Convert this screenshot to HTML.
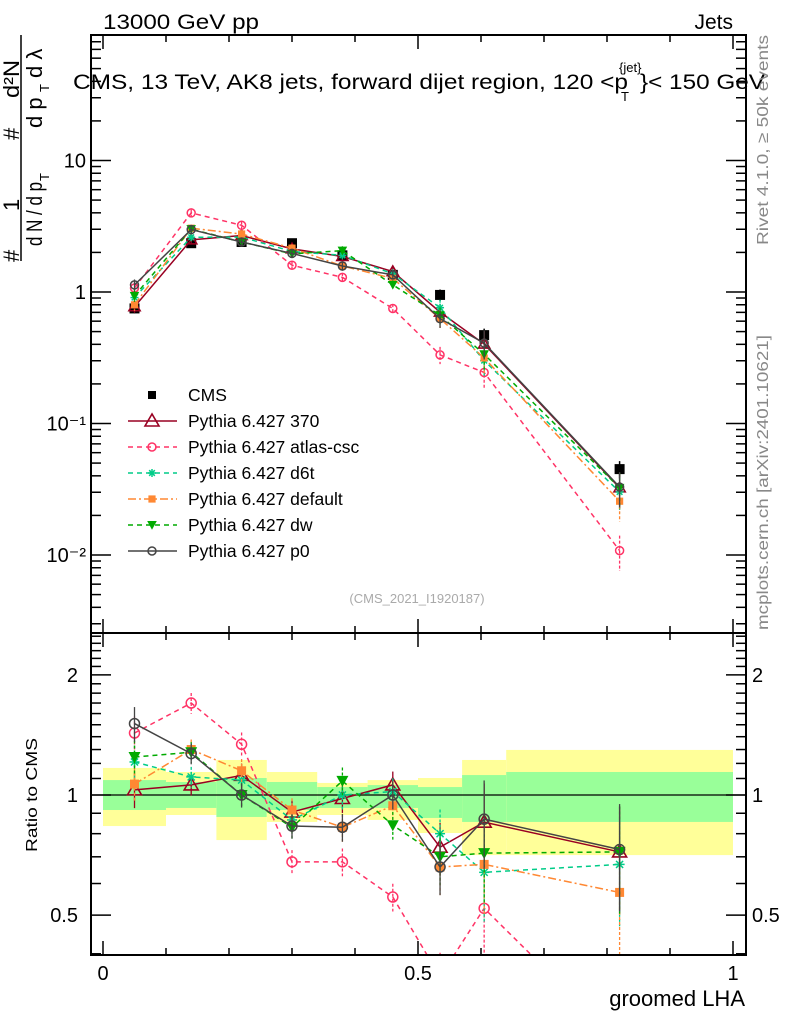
<!DOCTYPE html>
<html><head><meta charset="utf-8"><style>
html,body{margin:0;padding:0;background:#fff;width:786px;height:1024px;overflow:hidden;}
svg{display:block;font-family:"Liberation Sans",sans-serif;}
</style></head><body>
<svg id="chart" width="786" height="1024" viewBox="0 0 786 1024" xmlns="http://www.w3.org/2000/svg">
<g id="bands"></g>
<g id="grid"></g>
<g id="series"></g>
<g id="axes"></g>
<text x="103" y="29" font-size="21" textLength="156" lengthAdjust="spacingAndGlyphs">13000 GeV pp</text>
<text x="733" y="29" font-size="21" text-anchor="end">Jets</text>
<text x="73" y="89" font-size="21" textLength="555" lengthAdjust="spacingAndGlyphs">CMS, 13 TeV, AK8 jets, forward dijet region, 120 &lt;p</text>
<text x="619" y="72" font-size="13">{jet}</text>
<text x="621" y="101" font-size="13">T</text>
<text x="640" y="89" font-size="21" textLength="125" lengthAdjust="spacingAndGlyphs">}&lt; 150 GeV</text>
<text x="417" y="603" font-size="13" fill="#aaa" text-anchor="middle">(CMS_2021_I1920187)</text>
<text transform="translate(768,245) rotate(-90)" font-size="16" fill="#888" textLength="210" lengthAdjust="spacingAndGlyphs">Rivet 4.1.0, ≥ 50k events</text>
<text transform="translate(768,630) rotate(-90)" font-size="16" fill="#888" textLength="295" lengthAdjust="spacingAndGlyphs">mcplots.cern.ch [arXiv:2401.10621]</text>
<g font-size="22">
<line x1="21" y1="35" x2="21" y2="261" stroke="#000" stroke-width="1.5"/>
<text transform="translate(19,262) rotate(-90)">#</text>
<text transform="translate(19,211) rotate(-90)">1</text>
<text transform="translate(19,140) rotate(-90)">#</text>
<text transform="translate(19,98) rotate(-90)" textLength="38" lengthAdjust="spacingAndGlyphs">d²N</text>
<text transform="translate(42,246) rotate(-90)" textLength="64" lengthAdjust="spacingAndGlyphs">d N / d p</text>
<text transform="translate(49,181) rotate(-90)" font-size="13">T</text>
<text transform="translate(42,128) rotate(-90)">d p</text>
<text transform="translate(49,92) rotate(-90)" font-size="13">T</text>
<text transform="translate(42,78) rotate(-90)">d λ</text>
</g>
<text transform="translate(37,795) rotate(-90)" font-size="16" text-anchor="middle" textLength="114" lengthAdjust="spacingAndGlyphs">Ratio to CMS</text>
<text x="745" y="1006" font-size="22" text-anchor="end">groomed LHA</text>
<g id="legend"></g>
</svg>
<script>
const binEdges=[0,0.1,0.18,0.26,0.34,0.42,0.5,0.57,0.64,1.0];
const xCenters=[0.05,0.14,0.22,0.30,0.38,0.46,0.535,0.605,0.82];
const cmsValues=[0.75,2.35,2.4,2.35,1.9,1.35,0.95,0.47,0.045];
const cmsErr=[0.08,0.06,0.06,0.06,0.07,0.08,0.1,0.12,0.15];
const ratio370=[1.03,1.06,1.12,0.906,0.98,1.06,0.74,0.855,0.72];
const ratioAtlas=[1.43,1.70,1.34,0.68,0.68,0.555,0.35,0.52,0.24];
const ratioD6t=[1.21,1.11,1.09,0.866,1.0,1.02,0.80,0.64,0.67];
const ratioDefault=[1.065,1.30,1.15,0.917,0.83,0.94,0.66,0.67,0.57];
const ratioDw=[1.245,1.28,1.0,0.83,1.085,0.84,0.70,0.715,0.72];
const ratioP0=[1.51,1.27,1.0,0.836,0.83,1.0,0.66,0.87,0.73];
const mcRelErr=[0.1,0.06,0.07,0.07,0.08,0.08,0.15,0.25,0.3];
const yellowHi=[1.169,1.142,1.224,1.142,1.072,1.09,1.103,1.224,1.297];
const yellowLo=[0.836,0.891,0.771,0.856,0.891,0.866,0.803,0.707,0.707];
const greenHi=[1.09,1.078,1.103,1.078,1.047,1.059,1.047,1.122,1.142];
const greenLo=[0.917,0.928,0.881,0.917,0.928,0.928,0.876,0.856,0.856];
const mainTicks=[0.01,0.1,1,10];
const mainTickLabels=["10⁻²","10⁻¹","1","10"];
const ratioTicks=[0.5,1,2];
const xTicks=[0,0.5,1];

const NS="http://www.w3.org/2000/svg";
const L=91,R=746,T=35,MB=633,RB=955;
const X=v=>103+630*v;
const Ym=v=>292-131.5*Math.log10(v);
const Yr=v=>795-399*Math.log10(v);
function mk(tag,attrs,parent){const e=document.createElementNS(NS,tag);for(const k in attrs)e.setAttribute(k,attrs[k]);parent.appendChild(e);return e;}
const bands=document.getElementById('bands'),axes=document.getElementById('axes'),ser=document.getElementById('series'),leg=document.getElementById('legend');
for(let i=0;i<xCenters.length;i++){
  const x0=X(binEdges[i]),x1=X(binEdges[i+1]);
  const y=mk('rect',{x:x0,y:Yr(yellowHi[i]),width:x1-x0,height:Yr(yellowLo[i])-Yr(yellowHi[i]),fill:'#ffff99'},bands);
  
  
  const g=mk('rect',{x:x0,y:Yr(greenHi[i]),width:x1-x0,height:Yr(greenLo[i])-Yr(greenHi[i]),fill:'#99ff99'},bands);
  
  
}
mk('line',{x1:L,x2:R,y1:Yr(1),y2:Yr(1),stroke:'#000','stroke-width':1.3},bands);
[[T,MB],[MB,RB]].forEach(([a,b])=>{const f=mk('rect',{x:L,y:a,width:R-L,height:b-a,fill:'none',stroke:'#000','stroke-width':2},axes);

});
for(let v=0;v<=1.0001;v+=0.1){const major=Math.abs(v*2-Math.round(v*2))<1e-6;const len=major?14:7;
 [[MB,-1],[T,1],[RB,-1],[MB,1]].forEach(([y,d])=>mk('line',{x1:X(v),x2:X(v),y1:y,y2:y+d*len,stroke:'#000','stroke-width':1.5},axes));}
xTicks.forEach(v=>{const t=mk('text',{x:X(v),y:980,'font-size':20,'text-anchor':'middle'},axes);t.textContent=String(v);

});
for(let e=-3;e<=1;e++)for(let m=1;m<10;m++){const v=m*Math.pow(10,e);const y=Ym(v);if(y<T||y>MB)continue;const len=m==1?20:10;
 mk('line',{x1:L,x2:L+len,y1:y,y2:y,stroke:'#000','stroke-width':1.5},axes);mk('line',{x1:R,x2:R-len,y1:y,y2:y,stroke:'#000','stroke-width':1.5},axes);}
mainTicks.forEach((v,i)=>{const t=mk('text',{x:86,y:Ym(v)+7,'font-size':20,'text-anchor':'end'},axes);t.textContent=mainTickLabels[i];

});
for(let v=0.4;v<=2.6;v+=0.1){const y=Yr(v);if(y<MB||y>RB)continue;const maj=[0.5,1,2].some(q=>Math.abs(q-v)<1e-6);const len=maj?20:10;
 mk('line',{x1:L,x2:L+len,y1:y,y2:y,stroke:'#000','stroke-width':1.5},axes);mk('line',{x1:R,x2:R-len,y1:y,y2:y,stroke:'#000','stroke-width':1.5},axes);}
ratioTicks.forEach(v=>{const t=mk('text',{x:78,y:Yr(v)+7,'font-size':20,'text-anchor':'end'},axes);t.textContent=String(v);


const t2=mk('text',{x:752,y:Yr(v)+7,'font-size':20},axes);t2.textContent=String(v);

});
function marker(type,x,y,c,p,s){s=s||1;
 if(type=='sq')mk('rect',{x:x-5*s,y:y-5*s,width:10*s,height:10*s,fill:c},p);
 else if(type=='tri')mk('polygon',{points:`${x},${y-7*s} ${x-7*s},${y+5*s} ${x+7*s},${y+5*s}`,fill:'none',stroke:c,'stroke-width':1.6},p);
 else if(type=='oc')mk('circle',{cx:x,cy:y,r:5*s,fill:'none',stroke:c,'stroke-width':1.5},p);
 else if(type=='star'){for(let a=0;a<4;a++){const an=a*Math.PI/4;mk('line',{x1:x-5*s*Math.cos(an),y1:y-5*s*Math.sin(an),x2:x+5*s*Math.cos(an),y2:y+5*s*Math.sin(an),stroke:c,'stroke-width':1.5},p);}}
 else if(type=='fsq')mk('rect',{x:x-4.5*s,y:y-4.5*s,width:9*s,height:9*s,fill:c},p);
 else if(type=='dtri')mk('polygon',{points:`${x-6*s},${y-5*s} ${x+6*s},${y-5*s} ${x},${y+6*s}`,fill:c},p);
}
const mcs=[
 {n:'Pythia 6.427 370',r:ratio370,c:'#990022',d:'',m:'tri',k:'370'},
 {n:'Pythia 6.427 atlas-csc',r:ratioAtlas,c:'#ff3366',d:'5,4',m:'oc',k:'atlas-csc'},
 {n:'Pythia 6.427 d6t',r:ratioD6t,c:'#00cc88',d:'5,4',m:'star',k:'d6t'},
 {n:'Pythia 6.427 default',r:ratioDefault,c:'#ff8833',d:'8,3,2,3',m:'fsq',k:'default'},
 {n:'Pythia 6.427 dw',r:ratioDw,c:'#00aa00',d:'5,4',m:'dtri',k:'dw'},
 {n:'Pythia 6.427 p0',r:ratioP0,c:'#444444',d:'',m:'oc',k:'p0'}];
const clipM=mk('clipPath',{id:'cm'},ser);mk('rect',{x:L,y:T,width:R-L,height:MB-T},clipM);
const clipR=mk('clipPath',{id:'cr'},ser);mk('rect',{x:L,y:MB,width:R-L,height:RB-MB},clipR);
const gm=mk('g',{'clip-path':'url(#cm)'},ser),gr=mk('g',{'clip-path':'url(#cr)'},ser);
const cg=mk('g',{},gm);


xCenters.forEach((x,i)=>{const v=cmsValues[i];mk('line',{x1:X(x),x2:X(x),y1:Ym(v*(1+cmsErr[i])),y2:Ym(v*(1-cmsErr[i])),stroke:'#000','stroke-width':1.5},cg);marker('sq',X(x),Ym(v),'#000',cg);});
mcs.forEach(s=>{
 [[gm,i=>Ym(cmsValues[i]*s.r[i]),i=>cmsValues[i]*s.r[i],Ym,0.8],[gr,i=>Yr(s.r[i]),i=>s.r[i],Yr,1]].forEach(([par,yf,vf,sc,ms])=>{
  const g=mk('g',{},par);
  
  
  const pts=xCenters.map((x,i)=>X(x)+','+yf(i)).join(' ');
  const pl=mk('polyline',{points:pts,fill:'none',stroke:s.c,'stroke-width':1.5},g);if(s.d)pl.setAttribute('stroke-dasharray',s.d);
  xCenters.forEach((x,i)=>{const v=vf(i),e=mcRelErr[i];const el=mk('line',{x1:X(x),x2:X(x),y1:sc(v*(1+e)),y2:sc(Math.max(v*(1-e),1e-4)),stroke:s.c,'stroke-width':1.3},g);if(s.d)el.setAttribute('stroke-dasharray','3,2');
   marker(s.m,X(x),yf(i),s.c,g,ms);});
 });
});
const rows=[{n:'CMS',m:'sq',c:'#000',d:null}].concat(mcs.map(s=>({n:s.n,m:s.m,c:s.c,d:s.d})));
rows.forEach((r,i)=>{const y=395+26*i;const g=mk('g',{},leg);
 
 
 if(r.d!==null){const l=mk('line',{x1:128,x2:177,y1:y,y2:y,stroke:r.c,'stroke-width':1.5},g);if(r.d)l.setAttribute('stroke-dasharray',r.d);}
 marker(r.m,152,y,r.c,g,r.m=='tri'?1:0.8);
 const t=mk('text',{x:188,y:y+6,'font-size':17.5},g);t.textContent=r.n;});
</script>
</body></html>
